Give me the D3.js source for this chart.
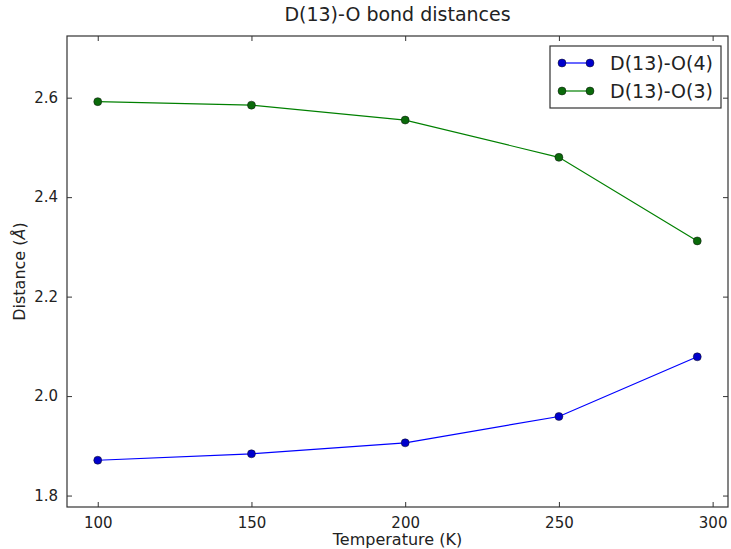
<!doctype html>
<html lang="en">
<head>
  <meta charset="utf-8">
  <title>D(13)-O bond distances</title>
  <style>
    body { margin: 0; background: #fff; }
    text { font-family: "DejaVu Sans", sans-serif; fill: #222; }
  </style>
</head>
<body>
<svg id="chart" width="731" height="549"></svg>

<script src="https://d3js.org/d3.v7.min.js"></script>
<script type="text/javascript">

// temperatures (K)
const temps = [100, 150, 200, 250, 295];
// bond distances (angstrom)
const dO4 = [1.871, 1.884, 1.906, 1.959, 2.079];
const dO3 = [2.592, 2.585, 2.555, 2.480, 2.312];

const seriesNames = ['D(13)-O(4)', 'D(13)-O(3)'];
const xTicks = [100, 150, 200, 250, 300];
const yTicks = [1.8, 2.0, 2.2, 2.4, 2.6];

const chart = d3.select('#chart');
const margin = { top: 36, right: 3, bottom: 42, left: 67 };
const width = 731 - margin.left - margin.right;
const height = 549 - margin.top - margin.bottom;

const inner = chart.append('g')
  .attr('transform', `translate(${margin.left} ${margin.top})`);

const x = d3.scaleLinear().domain([90, 305]).range([0, width]);
const y = d3.scaleLinear().domain([1.777, 2.724]).range([height, 0]);

const line = d3.line()
  .x(d => x(d.t))
  .y(d => y(d.v));

const series = [
  { name: seriesNames[0], line: '#0000ff', dot: '#0000cc', values: temps.map((t, i) => ({ t, v: dO4[i] })) },
  { name: seriesNames[1], line: '#008000', dot: '#0a6a0a', values: temps.map((t, i) => ({ t, v: dO3[i] })) },
];

// axes with inward ticks on all four sides
const tickLen = 5;
inner.append('g')
  .attr('transform', `translate(0 ${height})`)
  .call(d3.axisBottom(x).tickValues(xTicks).tickSize(-tickLen).tickPadding(10).tickFormat(d3.format('d')));
inner.append('g')
  .call(d3.axisTop(x).tickValues(xTicks).tickSize(-tickLen).tickFormat(''));
inner.append('g')
  .call(d3.axisLeft(y).tickValues(yTicks).tickSize(-tickLen).tickPadding(9).tickFormat(d3.format('.1f')));
inner.append('g')
  .attr('transform', `translate(${width} 0)`)
  .call(d3.axisRight(y).tickValues(yTicks).tickSize(-tickLen).tickFormat(''));

inner.selectAll('.domain').remove();
inner.selectAll('.tick line').attr('stroke', '#333');
inner.selectAll('.tick text')
  .style('font-family', '"DejaVu Sans", sans-serif')
  .style('font-size', '15px')
  .attr('fill', '#333');

inner.append('rect')
  .attr('width', width)
  .attr('height', height)
  .attr('fill', 'none')
  .attr('stroke', '#333')
  .attr('stroke-width', 1.2);

series.forEach(s => {
  inner.append('path')
    .datum(s.values)
    .attr('fill', 'none')
    .attr('stroke', s.line)
    .attr('stroke-width', 1.2)
    .attr('d', line);
  inner.selectAll(null)
    .data(s.values)
    .enter().append('circle')
    .attr('cx', d => x(d.t))
    .attr('cy', d => y(d.v))
    .attr('r', 4)
    .attr('fill', s.dot)
    .attr('stroke', '#111')
    .attr('stroke-width', 0.5);
});

// title and axis labels
chart.append('text')
  .attr('x', margin.left + width / 2)
  .attr('y', 21)
  .attr('text-anchor', 'middle')
  .style('font-size', '19px')
  .text('D(13)-O bond distances');

chart.append('text')
  .attr('x', margin.left + width / 2)
  .attr('y', 545)
  .attr('text-anchor', 'middle')
  .style('font-size', '16px')
  .text('Temperature (K)');

const ylab = chart.append('text')
  .attr('transform', `translate(25 ${margin.top + height / 2}) rotate(-90)`)
  .attr('text-anchor', 'middle')
  .style('font-size', '16px');
ylab.append('tspan').text('Distance (');
ylab.append('tspan').style('font-style', 'italic').text('Å');
ylab.append('tspan').text(')');

// legend
const legend = chart.append('g').attr('transform', 'translate(550 46)');
legend.append('rect')
  .attr('width', 171)
  .attr('height', 62)
  .attr('fill', '#fff')
  .attr('stroke', '#333')
  .attr('stroke-width', 1.2);
series.forEach((s, i) => {
  const g = legend.append('g').attr('transform', `translate(0 ${17 + i * 28})`);
  g.append('line')
    .attr('x1', 12).attr('x2', 40)
    .attr('stroke', s.line)
    .attr('stroke-width', 1.2);
  g.selectAll(null).data([12, 40]).enter().append('circle')
    .attr('cx', d => d)
    .attr('r', 4)
    .attr('fill', s.dot)
    .attr('stroke', '#111')
    .attr('stroke-width', 0.5);
  g.append('text')
    .attr('x', 60)
    .attr('dy', '0.35em')
    .style('font-size', '19px')
    .text(s.name);
});
</script>
</body>
</html>
